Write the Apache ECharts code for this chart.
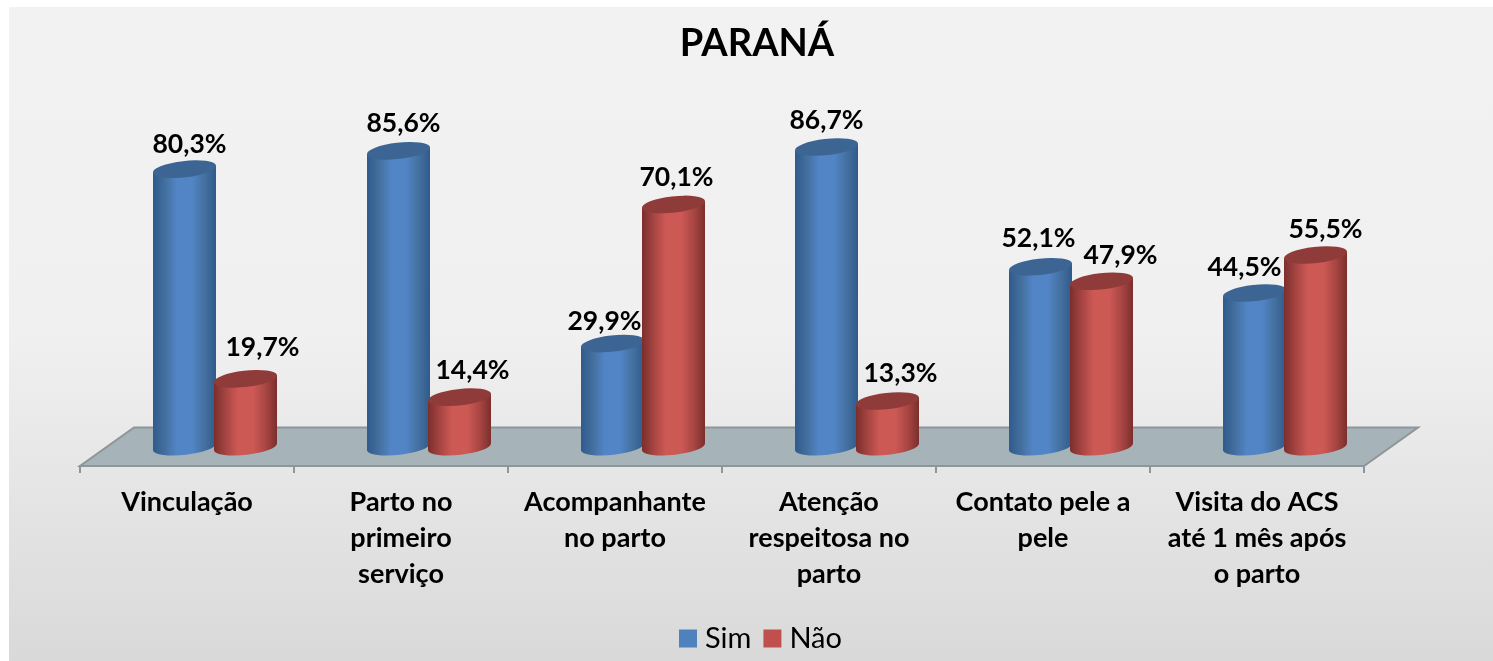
<!DOCTYPE html>
<html><head><meta charset="utf-8">
<style>html,body{margin:0;padding:0;background:#fff}#c{width:1493px;height:661px}</style>
<script src="https://cdn.jsdelivr.net/npm/echarts@6/dist/echarts.min.js"></script>
</head><body><div id="c"></div>
<script>
const titleText = 'PARANÁ';
const categories = ['Vinculação','Parto no\nprimeiro\nserviço','Acompanhante\nno parto','Atenção\nrespeitosa no\nparto','Contato pele a\npele','Visita do ACS\naté 1 mês após\no parto'];
const simValues = [80.3,85.6,29.9,86.7,52.1,44.5];
const naoValues = [19.7,14.4,70.1,13.3,47.9,55.5];
// label nudges (style only), as placed in the reference
const simLabelNudge = [[5,-25],[5,-27],[-8,-22],[0,-27],[-2,-28],[-10,-26]];
const naoLabelNudge = [[17,-31],[13,-27],[3,-27],[13,-28],[19,-26],[10,-26]];
const FONT = 'Lato';
const DEPTH_X = 28, HALF_GAP = 30.5, RX = 31.5, TILT = 3.5, RY = 8;

function ell(cx, cy){
  return `M${cx-RX},${cy+TILT}A${RX+0.2},${RY},-6.3,1,1,${cx+RX},${cy-TILT}A${RX+0.2},${RY},-6.3,1,1,${cx-RX},${cy+TILT}Z`;
}
function fmt(v){ return v.toFixed(1).replace('.',',')+'%'; }
function cyl(dir, colors, nudges){
  return function(params, api){
    const i = api.value(0), v = api.value(1);
    const base = api.coord([i,0]), top = api.coord([i,v]);
    const cx = base[0] + DEPTH_X + dir*HALF_GAP, by = base[1], ty = top[1];
    const body = `M${cx-RX},${ty+TILT}L${cx-RX},${by+TILT}A${RX+0.2},${RY},-6.3,0,0,${cx+RX},${by-TILT}L${cx+RX},${ty-TILT}Z`;
    const grad = new echarts.graphic.LinearGradient(0,0,1,0,[
      {offset:0,color:colors[0]},{offset:0.2,color:colors[1]},{offset:0.38,color:colors[2]},{offset:0.62,color:colors[2]},
      {offset:0.82,color:colors[1]},{offset:1,color:colors[0]}]);
    return {type:'group',children:[
      {type:'path',shape:{pathData:body},style:{fill:grad}},
      {type:'path',shape:{pathData:ell(cx,ty)},style:{fill:colors[3]}},
      {type:'text',style:{text:fmt(v),x:cx+nudges[i][0],y:ty+nudges[i][1],align:'center',verticalAlign:'middle',
        font:`bold 26.5px ${FONT}`,fill:'#000'}}
    ]};
  };
}
function floor(params, api){
  const c = params.coordSys, b = c.y + c.height;
  const pts = [[c.x,b+19],[c.x+c.width,b+19],[c.x+c.width+54,b-19.5],[c.x+54,b-19.5]];
  return {type:'polygon',shape:{points:pts},style:{fill:'#a6b4b9',stroke:'#8e9699',lineWidth:2}};
}
const chart = echarts.init(document.getElementById('c'),null,{renderer:'canvas'});
chart.setOption({
  animation:false,
  backgroundColor:'#fff',
  graphic:[{type:'rect',z:-10,shape:{x:9,y:7,width:1484,height:654},
    style:{fill:new echarts.graphic.LinearGradient(0,0,0,1,[{offset:0,color:'#f2f2f2'},{offset:0.5,color:'#f0f0f0'},{offset:1,color:'#d9d9d9'}])}}],
  title:{text:titleText,left:752,top:20,textAlign:'center',textStyle:{fontFamily:FONT,fontWeight:'bold',fontSize:38,color:'#000'}},
  legend:{top:619,left:674,itemWidth:18,itemHeight:18,itemGap:12,icon:'rect',
    textStyle:{fontFamily:FONT,fontSize:29,color:'#000',padding:[0,0,0,3]},data:['Sim','Não']},
  grid:{left:80,width:1284,top:101,height:346},
  xAxis:{type:'category',data:categories,offset:19,z:2,
    axisLine:{onZero:false,lineStyle:{color:'#8e9699',width:2}},
    axisTick:{show:true,length:7,alignWithLabel:false,lineStyle:{color:'#8e9699',width:2}},
    axisLabel:{interval:0,margin:18,color:'#000',fontFamily:FONT,fontWeight:'bold',fontSize:27,lineHeight:36}},
  yAxis:{type:'value',min:0,max:100,show:false},
  series:[
    {type:'custom',name:'_floor',silent:true,z:1,data:[0],renderItem:floor,legendHoverLink:false},
    {type:'custom',name:'Sim',z:3,itemStyle:{color:'#4f81bd'},renderItem:cyl(-1,['#2f5a8c','#44709f','#5285c6','#3c6594'],simLabelNudge),
      encode:{x:0,y:1},data:simValues.map((v,i)=>[i,v])},
    {type:'custom',name:'Não',z:4,itemStyle:{color:'#c0504d'},renderItem:cyl(1,['#7a2e2c','#a84643','#cd5955','#8f3b39'],naoLabelNudge),
      encode:{x:0,y:1},data:naoValues.map((v,i)=>[i,v])}
  ]
});
</script></body></html>
